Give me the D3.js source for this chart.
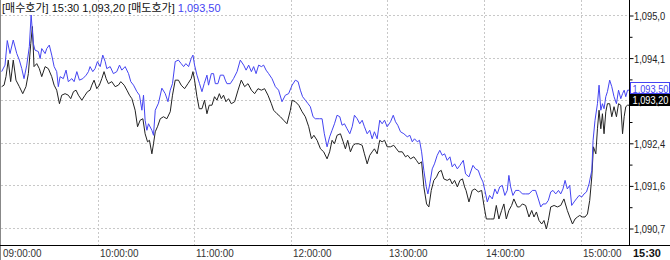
<!DOCTYPE html>
<html lang="ko">
<head>
<meta charset="UTF-8">
<title></title>
<style>
  body { margin:0; background:#fff; }
  svg { display:block; }
  text { font-family:"Liberation Sans",Arial,"Noto Sans CJK KR",sans-serif; }
  .grid { stroke:#c8c8c8; stroke-dasharray:2,2; shape-rendering:crispEdges; }
</style>
</head>
<body>
<svg id="chart" width="670" height="260"></svg>
<script src="https://d3js.org/d3.v7.min.js"></script>
<script>
// minutes after 09:00 and price
var askT = [0.4,2.5,3.9,5.6,7.6,9.8,11.4,12.9,14.3,16,17.6,18.7,20.1,21.1,23.2,24.3,25.3,27.4,28.4,30,31.5,33,34.6,35.6,36.7,38.7,40.4,41.8,44,45.4,47.1,48.7,50.8,52.9,54.3,55.3,57,58.4,59.9,61.6,63.2,64.7,65.7,67.8,69.8,71.9,73.6,75,77.1,79.2,80.6,82.3,84.4,86,87.5,88.5,89.5,90.6,91.6,93.7,94.7,95.8,97.8,99.9,102,103.7,105.1,106.5,108.2,110.2,111.9,113.4,114.8,116.5,118.1,119.2,120.2,121.7,123.3,124.8,126.2,127.9,128.9,130.6,132,133.1,134.7,136.2,138.2,139.3,140.3,142.4,144.4,146.6,148.6,150.7,152.2,153.8,155.5,156.9,158.4,160,161.7,163.1,164.6,166.2,168.3,170.4,172.4,174.5,176.6,178.6,180.8,182.8,184.5,185.9,187.3,189,190.7,192.1,193.8,195.2,197.9,199.4,200.8,202.5,204.1,205.6,207.1,208.7,210.4,211.8,213.3,214.9,216.6,218.1,219.5,221.2,222.8,224.3,225.7,227.4,229,230.5,231.9,233.6,235.2,236.7,238.2,239.8,241.9,243.6,245,246.4,248.1,250.2,252.3,253.9,255.4,256.8,258.5,259.9,261.2,262.6,264.1,265.1,266.3,267.8,269.2,270.9,272.5,274,275.5,277.1,278.8,280.2,281.7,283.4,285,287.1,288.5,290.6,293.1,294.7,296.4,297.8,299.3,300.5,302,303.4,305.1,306.7,308.2,309.7,311.3,312.9,314.4,315.4,316.5,317.9,319.6,321.7,323.8,325.8,327.9,330,332,333.7,335.2,336.6,338.3,339.9,341.4,342.8,344.5,346.2,347.6,349,350.3,351.7,353.2,354.4,355.9,357.3,359,360.7,362.1,363.6,365.2,366.9,367.7,368.9,370.4,371.4,372.5,373.5,374.5,375.6,376.6,378,379.3,380.7,382.2,383.5,384.9,386,387,388,389.1,390];
var askP = [1093.87,1094.00,1094.49,1094.23,1094.50,1094.23,1094.10,1093.93,1093.73,1094.00,1094.37,1095.00,1094.43,1094.30,1094.27,1094.13,1094.33,1094.23,1094.33,1094.40,1094.20,1093.97,1093.87,1093.57,1093.77,1093.73,1093.90,1093.67,1093.73,1093.67,1093.87,1093.70,1093.73,1093.80,1093.87,1093.97,1093.87,1093.93,1094.07,1093.97,1094.20,1094.07,1093.93,1093.97,1093.83,1093.87,1094.00,1093.90,1093.97,1093.83,1093.67,1093.60,1093.47,1093.40,1093.10,1093.40,1092.90,1092.70,1092.83,1092.70,1092.60,1093.10,1093.24,1093.54,1093.43,1093.27,1093.50,1093.63,1094.07,1094.10,1094.03,1093.97,1094.03,1093.97,1094.13,1094.20,1094.00,1093.80,1093.63,1093.47,1093.63,1093.80,1093.60,1093.83,1093.83,1093.63,1093.63,1093.80,1093.80,1093.70,1093.63,1093.63,1093.73,1093.87,1094.10,1094.00,1093.90,1094.00,1093.87,1093.97,1093.83,1094.00,1093.97,1094.00,1093.90,1093.83,1093.73,1093.57,1093.50,1093.27,1093.40,1093.43,1093.60,1093.70,1093.67,1093.50,1093.37,1093.30,1093.23,1093.17,1092.97,1092.93,1092.93,1092.93,1092.63,1092.37,1092.57,1092.70,1092.83,1093.00,1092.97,1092.80,1092.83,1092.73,1092.63,1092.77,1093.00,1092.93,1092.83,1092.90,1092.77,1092.63,1092.70,1092.53,1092.67,1092.53,1092.90,1092.83,1092.90,1092.77,1092.87,1093.00,1092.87,1092.80,1092.67,1092.63,1092.57,1092.60,1092.47,1092.53,1092.47,1092.50,1092.27,1091.90,1091.57,1091.43,1091.63,1091.93,1092.03,1092.20,1092.30,1092.20,1092.23,1092.10,1092.17,1091.97,1092.03,1091.93,1092.00,1092.10,1091.83,1091.77,1092.00,1091.93,1091.90,1091.77,1091.67,1091.50,1091.27,1091.40,1091.33,1091.53,1091.43,1091.57,1091.60,1091.40,1091.50,1091.80,1091.57,1091.40,1091.50,1091.50,1091.43,1091.43,1091.43,1091.50,1091.50,1091.33,1091.17,1091.23,1091.23,1091.30,1091.47,1091.50,1091.43,1091.50,1091.43,1091.53,1091.70,1091.53,1091.60,1091.20,1091.27,1091.33,1091.40,1091.37,1091.43,1091.47,1091.63,1091.90,1092.50,1092.90,1093.23,1093.60,1093.10,1093.23,1093.13,1093.37,1093.47,1093.70,1093.57,1093.37,1093.23,1093.50,1093.33,1093.43,1093.50,1093.37,1093.50,1093.50];
var bidT = [0.4,1.9,3.1,4.5,6,7.6,9.3,11.4,13.5,15.5,17,18.5,19.5,20.5,22.2,23.8,25.3,27.4,29.4,31.5,33,34.6,36.3,37.7,39.8,41.8,43.3,45,46.6,48.1,50.2,52.2,53.7,55.3,56.4,57.8,59.5,61.1,62.6,64,65.3,66.7,68.8,70.9,72.9,74.4,76.5,78.2,79.8,81.3,83.3,84.8,86.4,88.1,89.5,91,92.2,93.7,94.7,95.8,97.3,98.9,100.9,103,105.1,106.5,108.2,110.2,111.9,114,116.1,118.1,119.2,120.2,121.7,123.1,124.8,126.4,127.9,129.3,131,132.6,134.1,135.6,136.8,138.2,139.7,141.3,143,145.1,147.2,149.2,151.3,153.4,155.5,157.5,159.6,161.7,163.7,165.8,167.9,169.3,171.4,173.5,175.5,177.6,179.7,180.8,182.8,184.9,187,189,191.1,192.8,194.3,196.3,198.4,200.4,202.5,204.1,205.6,207.1,208.7,210.8,212.5,213.9,215.3,217,218.7,220.1,222.2,224.3,225.7,227.4,229,230.5,231.9,233.6,235.2,236.7,238.2,239.8,241.9,243.9,245.6,247,249.2,251.2,252.6,254.3,256.4,258,259.5,261.2,262.6,264.3,265.7,267.2,268.8,270.5,271.9,273.4,275,277.1,278.8,280.2,281.7,283.4,285,286.6,287.9,288.8,290.6,292.6,294.3,296.4,298.5,299.9,301.4,304.1,306.1,307.6,309.2,310.9,312.3,313.8,315.4,317.1,318.5,320.7,322.1,323.8,325.8,327.9,329.6,331,332.5,334.1,335.8,337.2,338.7,339.9,341.4,343.5,345.5,347.6,349.6,351.7,353.2,354.9,356.5,358,359.4,361.1,362.7,364.2,365.6,366.9,367.9,369.4,370.4,371.4,372.5,373.5,374.5,375.6,376.6,378,379.3,380.7,382.2,383.5,384.9,386,387,388,389.1,390];
var bidP = [1093.57,1093.60,1093.77,1094.10,1093.67,1094.10,1093.70,1093.57,1093.43,1093.57,1093.83,1094.43,1094.77,1093.97,1094.03,1093.93,1093.77,1093.97,1093.93,1093.77,1093.60,1093.50,1093.23,1093.40,1093.43,1093.40,1093.33,1093.47,1093.50,1093.40,1093.30,1093.40,1093.47,1093.50,1093.60,1093.70,1093.53,1093.60,1093.73,1093.87,1093.73,1093.63,1093.67,1093.57,1093.60,1093.67,1093.60,1093.50,1093.40,1093.33,1093.10,1092.77,1092.90,1092.93,1092.63,1092.47,1092.50,1092.23,1092.43,1092.67,1092.78,1092.93,1092.97,1092.93,1093.07,1093.40,1093.70,1093.70,1093.60,1093.53,1093.63,1093.73,1093.87,1093.70,1093.37,1093.13,1093.13,1093.30,1093.03,1093.20,1093.20,1093.37,1093.30,1093.43,1093.33,1093.40,1093.27,1093.33,1093.23,1093.27,1093.50,1093.70,1093.57,1093.63,1093.50,1093.43,1093.53,1093.50,1093.53,1093.40,1093.23,1093.10,1093.03,1092.97,1092.90,1092.83,1093.10,1093.30,1093.27,1093.20,1093.07,1092.97,1092.77,1092.53,1092.60,1092.50,1092.33,1092.27,1092.13,1092.27,1092.50,1092.43,1092.60,1092.63,1092.47,1092.33,1092.50,1092.27,1092.40,1092.43,1092.43,1092.40,1092.23,1092.03,1092.20,1092.27,1092.33,1092.23,1092.50,1092.47,1092.50,1092.37,1092.37,1092.40,1092.33,1092.27,1092.27,1092.17,1092.20,1092.13,1092.17,1092.10,1092.03,1092.07,1091.57,1091.23,1091.17,1091.50,1091.70,1091.77,1091.87,1091.90,1091.73,1091.70,1091.73,1091.63,1091.70,1091.57,1091.70,1091.73,1091.57,1091.50,1091.27,1091.50,1091.53,1091.47,1091.50,1091.20,1090.93,1090.93,1090.93,1091.20,1090.93,1091.10,1091.23,1090.93,1091.10,1091.20,1091.33,1091.17,1091.17,1091.23,1091.20,1090.97,1091.10,1090.97,1091.07,1090.90,1090.83,1090.90,1090.73,1090.90,1091.17,1091.20,1091.17,1091.20,1091.33,1091.10,1090.97,1090.83,1090.93,1090.97,1091.00,1090.97,1090.97,1091.03,1091.30,1091.77,1092.37,1092.23,1092.73,1093.10,1092.73,1093.03,1092.63,1093.07,1093.23,1093.23,1092.97,1093.17,1092.97,1093.23,1093.20,1092.63,1092.97,1093.17,1093.20,1093.20];

var yTicks = [1095.0, 1094.15, 1093.3, 1092.45, 1091.6, 1090.75];
var yLabels = ['1,095,0', '1,094,1', '1,093,3', '1,092,4', '1,091,6', '1,090,7'];
var hours = [9, 10, 11, 12, 13, 14, 15];
var lastTime = '15:30';
var bidName = '[매수호가]', askName = '[매도호가]';
var bidLast = '1,093,20', askLast = '1,093,50';

var blue = '#4444f2';
var svg = d3.select('#chart');
var t0 = new Date(2000, 0, 1, 9, 0);
var toDate = m => new Date(t0.getTime() + m * 60000);

var x = d3.scaleTime().domain([t0, toDate(390)]).range([1, 629]);
var y = d3.scaleLinear().domain([1090.75, 1095.0]).range([228, 15]);

// narrow text like the bitmap font of the original
function narrow(g, tx, ty, str, sx) {
  return g.append('text')
    .attr('transform', 'translate(' + tx + ',' + ty + ') scale(' + sx + ',1)')
    .text(str);
}

// grid
svg.append('g').selectAll('line').data(hours.slice(1)).enter().append('line')
  .attr('class', 'grid')
  .attr('x1', d => Math.round(x(new Date(2000,0,1,d))) + 0.5)
  .attr('x2', d => Math.round(x(new Date(2000,0,1,d))) + 0.5)
  .attr('y1', 0).attr('y2', 245);
svg.append('g').selectAll('line').data(yTicks).enter().append('line')
  .attr('class', 'grid')
  .attr('x1', 1).attr('x2', 629)
  .attr('y1', d => Math.round(y(d)) + 0.5)
  .attr('y2', d => Math.round(y(d)) + 0.5);

// lines
var bid = bidT.map((t, i) => ({t: toDate(t), p: bidP[i]}));
var ask = askT.map((t, i) => ({t: toDate(t), p: askP[i]}));
var line = d3.line().x(d => x(d.t)).y(d => y(d.p));
svg.append('path').datum(bid).attr('d', line)
  .attr('fill', 'none').attr('stroke', '#222').attr('stroke-width', 1);
svg.append('path').datum(ask).attr('d', line)
  .attr('fill', 'none').attr('stroke', blue).attr('stroke-width', 1);

// frame
svg.append('line').attr('x1', 0.5).attr('x2', 0.5).attr('y1', 0).attr('y2', 260).attr('stroke', '#888');
svg.append('line').attr('x1', 629.5).attr('x2', 629.5).attr('y1', 0).attr('y2', 245).attr('stroke', '#000');
svg.append('line').attr('x1', 0).attr('x2', 670).attr('y1', 245.5).attr('y2', 245.5).attr('stroke', '#000');

// right axis: ticks from d3, labels drawn narrow
var minor = d3.pairs(yTicks).map(p => (p[0] + p[1]) / 2);
var ra = svg.append('g').attr('transform', 'translate(629.5,0.5)')
  .call(d3.axisRight(y).tickValues(yTicks).tickSize(4).tickFormat(''));
ra.select('.domain').remove();
svg.append('g').attr('transform', 'translate(629.5,0.5)')
  .call(d3.axisRight(y).tickValues(minor).tickSize(3).tickFormat(''))
  .select('.domain').remove();
var rl = svg.append('g').attr('font-size', 11).attr('fill', '#222');
yTicks.forEach((v, i) => narrow(rl, 634, Math.round(y(v)) + 4.5, yLabels[i], 0.85));

// bottom axis
var bl = svg.append('g').attr('font-size', 11).attr('fill', '#333');
hours.forEach(h => narrow(bl, Math.round(x(new Date(2000,0,1,h))) + 2, 257,
  d3.timeFormat('%H:%M:%S')(new Date(2000,0,1,h)), 0.9));
narrow(svg.append('g').attr('font-size', 11.5).attr('font-weight', 'bold').attr('fill', '#111'),
  633, 257, lastTime, 0.95);

// last value boxes
var ya = Math.round(y(askP[askP.length - 1]));
svg.append('rect').attr('x', 630.5).attr('y', ya - 7.5).attr('width', 39).attr('height', 11)
  .attr('fill', '#fff').attr('stroke', blue);
narrow(svg.append('g').attr('font-size', 11).attr('fill', blue), 632.5, ya + 2.5, askLast, 0.84);
svg.append('rect').attr('x', 630).attr('y', ya + 4).attr('width', 40).attr('height', 12).attr('fill', '#000');
narrow(svg.append('g').attr('font-size', 11).attr('fill', '#fff'), 632.5, ya + 14, bidLast, 0.84);

// header
var hd = svg.append('text').attr('x', 2).attr('y', 12).attr('font-size', 11).attr('fill', '#111');
hd.append('tspan').text(bidName + ' ' + lastTime + ' ' + bidLast + ' ' + askName + ' ');
hd.append('tspan').attr('fill', blue).text(askLast);
</script>
</body>
</html>
